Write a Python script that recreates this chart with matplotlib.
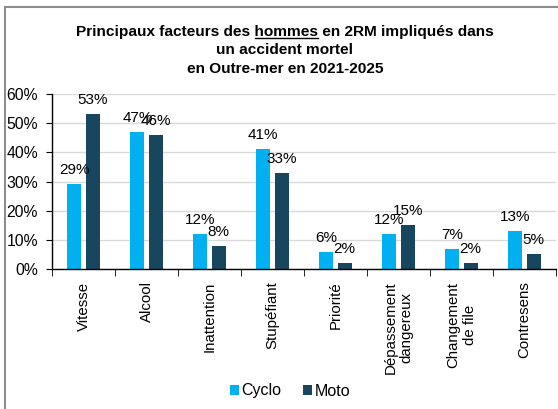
import matplotlib.pyplot as plt
import numpy as np
from matplotlib.lines import Line2D

plt.rcParams['font.family'] = ['Liberation Sans', 'DejaVu Sans']

categories = ["Vitesse", "Alcool", "Inattention", "Stupéfiant", "Priorité",
              "Dépassement\ndangereux", "Changement\nde file", "Contresens"]
cyclo = [29, 47, 12, 41, 6, 12, 7, 13]
moto = [53, 46, 8, 33, 2, 15, 2, 5]
yticks = [0, 10, 20, 30, 40, 50, 60]

c_cyclo = "#00B0F0"
c_moto = "#17465E"

fig = plt.figure(figsize=(5.58, 4.09), dpi=100)
ax = fig.add_axes([52 / 558, 1 - 269 / 409, 504 / 558, 175 / 409])

x = np.arange(len(categories))
w = 0.22
b1 = ax.bar(x - 0.145, cyclo, w, color=c_cyclo, label="Cyclo", zorder=2)
b2 = ax.bar(x + 0.145, moto, w, color=c_moto, label="Moto", zorder=2)

for bars, vals in ((b1, cyclo), (b2, moto)):
    for rect, v in zip(bars, vals):
        ax.annotate(f"{v}%", (rect.get_x() + rect.get_width() / 2, v),
                    xytext=(0, 5), textcoords="offset points",
                    ha="center", va="bottom", fontsize=11, zorder=3)

ax.set_xlim(-0.5, len(categories) - 0.5)
ax.set_ylim(0, 60)
ax.set_yticks(yticks)
ax.set_yticklabels([f"{t}%" for t in yticks], fontsize=11.3)
ax.yaxis.grid(True, color="#d9d9d9", linewidth=1, zorder=0)
ax.set_axisbelow(True)

# category labels centred, tick marks on the boundaries
ax.set_xticks(x)
ax.set_xticklabels(categories, rotation=90, fontsize=10.8, ha="center",
                   va="top", multialignment="center", linespacing=1.2)
ax.tick_params(axis="x", which="major", length=0, pad=9)
ax.set_xticks(np.arange(len(categories) + 1) - 0.5, minor=True)
ax.tick_params(axis="x", which="minor", length=5, direction="out", color="black")
ax.tick_params(axis="y", length=4, direction="out", color="black", pad=6)

for s in ("top", "right"):
    ax.spines[s].set_visible(False)
for s in ("left", "bottom"):
    ax.spines[s].set_color("black")
    ax.spines[s].set_linewidth(1)

fig.legend(handles=[b1, b2], labels=["Cyclo", "Moto"], loc="center",
           bbox_to_anchor=(290 / 558, 1 - 391 / 409), ncol=2, frameon=False,
           fontsize=11.5, handlelength=0.55, handleheight=0.55, handletextpad=0.15,
           columnspacing=1.4)

# title, with "hommes" underlined
tx = 285 / 558
fs_title = 11.1
line1 = "Principaux facteurs des hommes en 2RM impliqués dans"
t1 = fig.text(tx, 1 - 32 / 409, line1, ha="center", va="center",
              fontsize=fs_title, fontweight="bold")
fig.text(tx, 1 - 50.5 / 409, "un accident mortel", ha="center", va="center",
         fontsize=fs_title, fontweight="bold")
fig.text(tx, 1 - 69 / 409, "en Outre-mer en 2021-2025", ha="center", va="center",
         fontsize=fs_title, fontweight="bold")

fig.canvas.draw()
r = fig.canvas.get_renderer()


def text_width(s):
    tmp = fig.text(0, 0, s, fontsize=fs_title, fontweight="bold")
    wd = tmp.get_window_extent(r).width
    tmp.remove()
    return wd


bb = t1.get_window_extent(r)
x_end = bb.x0 + text_width("Principaux facteurs des hommes")
x_start = x_end - text_width("hommes")
y_ul = bb.y0 + 1
fig.add_artist(Line2D([x_start / 558, x_end / 558], [y_ul / 409, y_ul / 409],
                      transform=fig.transFigure, color="black", linewidth=1))

# outer frame (left and top edges)
fig.add_artist(Line2D([5 / 558, 5 / 558], [0, 1 - 7 / 409],
                      transform=fig.transFigure, color="#8c8c8c", linewidth=1.5))
fig.add_artist(Line2D([5 / 558, 1], [1 - 7 / 409, 1 - 7 / 409],
                      transform=fig.transFigure, color="#8c8c8c", linewidth=1.5))

fig.savefig("out.png", dpi=100)
